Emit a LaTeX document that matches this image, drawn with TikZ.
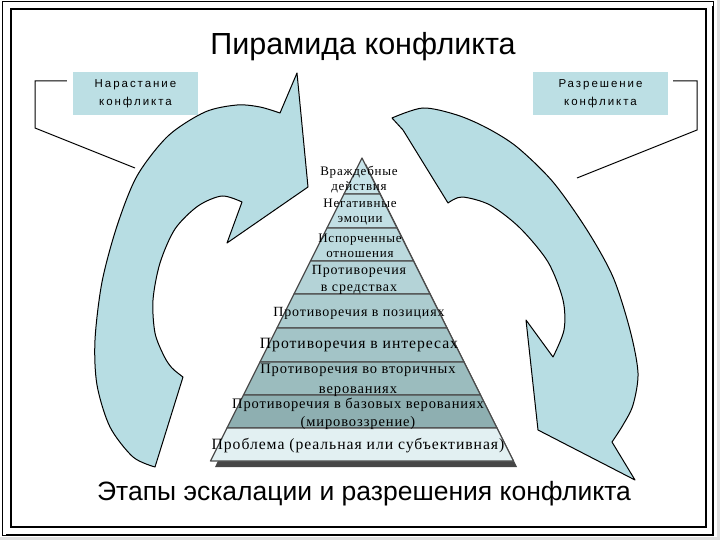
\documentclass[tikz,border=0pt]{standalone}
\usepackage{fontspec}
\setmainfont{Liberation Serif}
\newfontfamily\pyrfont[LetterSpace=6]{Liberation Serif}
\newfontfamily\arial{Liberation Sans}
\newfontfamily\arialsp[LetterSpace=17]{Liberation Sans}
\definecolor{arrowblue}{RGB}{183,221,227}
\definecolor{boxblue}{RGB}{188,223,228}
\definecolor{layA}{RGB}{200,228,233}
\definecolor{layB}{RGB}{194,223,228}
\definecolor{layC}{RGB}{188,218,222}
\definecolor{layD}{RGB}{180,211,215}
\definecolor{layE}{RGB}{172,204,207}
\definecolor{layF}{RGB}{163,196,199}
\definecolor{layG}{RGB}{155,188,190}
\definecolor{layH}{RGB}{142,175,177}
\definecolor{layI}{RGB}{226,240,242}
\begin{document}
\begin{tikzpicture}[x=1pt,y=-1pt,
  label/.style={fill=boxblue,align=center,inner sep=0pt,font=\arialsp\fontsize{11.5}{18}\selectfont},
  layertext/.style={align=center,inner sep=0pt},
  bigarrow/.style={fill=arrowblue,draw=black,line width=1pt,line join=round}]
\useasboundingbox (0,0) rectangle (720,540);
% frame
\fill[gray!25] (0,537) rectangle (720,540);
\fill[gray!25] (717,0) rectangle (720,540);
\draw[line width=1pt] (2,2) rectangle (713,535);
\draw[line width=2.5pt] (713,6) -- (713,535) -- (6,535);
\draw[line width=1.2pt] (11,9) rectangle (706,527);
% titles
\node[font=\arial\fontsize{30.5}{32}\selectfont] (title) at (363,47) {Пирамида конфликта};
\node[font=\arial\fontsize{26.5}{30}\selectfont] (caption) at (364,494) {Этапы эскалации и разрешения конфликта};
% escalation arrow
\draw[bigarrow] (155,467) -- plot[smooth] coordinates {(155,467) (133,457) (110,427) (97,385) (95,340) (102,282) (117,226) (137,176) (168,136) (205,112) (237,105) (260,107) (280,113)}
  -- (297,73) -- (308,187) -- (227,243) -- (242,202)
  -- plot[smooth] coordinates {(242,202) (222,196) (198,206) (175,229) (160,263) (153,300) (155,333) (164,356) (172,368) (183,377)} -- cycle;
% resolution arrow
\draw[bigarrow] (392,118) -- plot[smooth] coordinates {(392,118) (423,108) (457,115) (487,128) (517,147) (553,182) (587,230) (613,277) (630,330) (638,373) (633,405) (623,425) (612,442)}
  -- (635,480) -- (538,430) -- (526,320) -- (553,357)
  -- plot[smooth] coordinates {(553,357) (564,330) (563,300) (548,262) (520,228) (490,205) (462,197) (448,203)}
  -- (403,130) -- cycle;
% labels
\node[label,minimum width=125pt,minimum height=43pt] (grow) at (135.5,93.5) {Нарастание\\конфликта};
\node[label,minimum width=135pt,minimum height=43pt] (resolve) at (600.5,93.5) {Разрешение\\конфликта};
\coordinate (growend) at (135,168);
\coordinate (resolveend) at (577,178);
\draw[line width=1pt] ([xshift=-6pt]grow.west |- 0,81) -- (35,81) -- (35,128) -- (growend);
\draw[line width=1pt] ([xshift=5pt]resolve.east |- 0,81) -- (697,81) -- (697,130) -- (resolveend);
% pyramid shadow
\fill[gray!55!black] (366,164) -- (517,467) -- (215,467) -- cycle;
% pyramid layers
\foreach \t/\b/\c in {158/194/layA,194/228/layB,228/261/layC,261/294/layD,294/328/layE,328/362/layF,362/395/layG,395/428/layH,428/461/layI}
  \draw[fill=\c,draw=gray!60!black,line width=1.2pt,line join=round]
    ({362-0.5*(\t-158)},\t) -- ({362+0.5*(\t-158)},\t) -- ({362+0.5*(\b-158)},\b) -- ({362-0.5*(\b-158)},\b) -- cycle;
% pyramid texts
\node[layertext,font=\pyrfont\fontsize{13}{15}\selectfont] (hostile) at (359,179.5) {Враждебные\\действия};
\node[layertext,font=\pyrfont\fontsize{13}{15}\selectfont] (emotions) at (360,212.5) {Негативные\\эмоции};
\node[layertext,font=\pyrfont\fontsize{13}{15}\selectfont] (relations) at (360,245.5) {Испорченные\\отношения};
\node[layertext,font=\pyrfont\fontsize{14}{17}\selectfont] (means) at (359,279.5) {Противоречия\\в средствах};
\node[layertext,font=\pyrfont\fontsize{14}{16}\selectfont] (positions) at (359,313) {Противоречия в позициях};
\node[layertext,font=\pyrfont\fontsize{15.7}{18}\selectfont] (interests) at (359,345) {Противоречия в интересах};
\node[layertext,font=\pyrfont\fontsize{14.5}{20}\selectfont] (secondary) at (358,380) {Противоречия во вторичных\\верованиях};
\node[layertext,font=\pyrfont\fontsize{14.5}{18}\selectfont] (basic) at (358,414) {Противоречия в базовых верованиях\\(мировоззрение)};
\node[layertext,font=\pyrfont\fontsize{15.7}{18}\selectfont] (problem) at (358,446) {Проблема (реальная или субъективная)};
\end{tikzpicture}
\end{document}
